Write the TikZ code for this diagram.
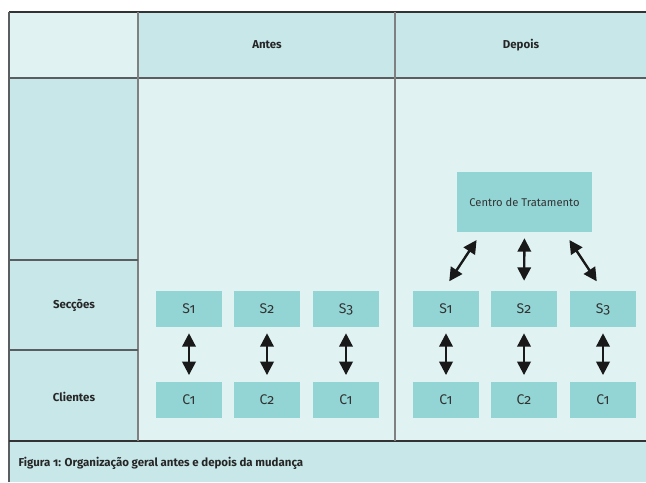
\documentclass[tikz,border=0pt]{standalone}
\usepackage{fontspec}
\setmainfont[Numbers=OldStyle]{Fira Sans}
\usetikzlibrary{arrows.meta,calc}
\definecolor{hdr}{HTML}{C7E7E9}
\definecolor{body}{HTML}{E1F2F2}
\definecolor{boxc}{HTML}{93D5D5}
\definecolor{linec}{HTML}{5A5E60}
\tikzset{
  box/.style={fill=boxc,minimum width=66*0.75pt,minimum height=36*0.75pt,inner sep=0pt,font=\fontsize{10.5}{12}\selectfont,text=black!80},
  bigbox/.style={fill=boxc,minimum width=135*0.75pt,minimum height=60*0.75pt,inner sep=0pt,font=\fontsize{8.4}{10}\selectfont,text=black!80},
  lbl/.style={font=\bfseries\fontsize{8.6}{10}\selectfont,text=black!85},
  grid/.style={draw=linec,line width=1.1pt},
  dbl/.style={{Triangle[length=10pt,width=10pt]}-{Triangle[length=10pt,width=10pt]},line width=1.8pt,draw=black!90}
}
\begin{document}
\begin{tikzpicture}[x=0.75pt,y=-0.75pt]
\useasboundingbox (0,0) rectangle (646,482);
% fills
\fill[white] (0,0) rectangle (646,482);
\fill[body] (9,12) rectangle (138,78);
\fill[hdr] (138,12) rectangle (646,78);
\fill[hdr] (9,78) rectangle (138,441);
\fill[body] (138,78) rectangle (646,441);
\fill[hdr] (9,441) rectangle (646,482);
% grid lines
\draw[grid,draw=black!80] (9,12) -- (646,12);
\draw[grid] (9,12) -- (9,482);
\draw[grid] (9,78) -- (646,78);
\draw[grid,draw=black!80] (9,441) -- (646,441);
\draw[grid,draw=gray] (138,12) -- (138,441);
\draw[grid,draw=gray] (395,12) -- (395,441);
\draw[grid] (9,260) -- (138,260);
\draw[grid] (9,350) -- (138,350);
% labels
\node[lbl] (antes) at (267,45) {Antes};
\node[lbl] (depois) at (521,45) {Depois};
\node[lbl] (seccoes) at (74,305) {Secções};
\node[lbl] (clientes) at (74,397) {Clientes};
\node[lbl,anchor=west] (cap) at (14,463) {Figura 1: Organização geral antes e depois da mudança};
% Antes boxes
\node[box] (as1) at (189,309) {S1};
\node[box] (as2) at (267,309) {S2};
\node[box] (as3) at (346,309) {S3};
\node[box] (ac1) at (189,400) {C1};
\node[box] (ac2) at (267,400) {C2};
\node[box] (ac3) at (346,400) {C1};
% Depois boxes
\node[bigbox] (ct) at (524.5,202) {Centro de Tratamento};
\node[box] (ds1) at (446,309) {S1};
\node[box] (ds2) at (524,309) {S2};
\node[box] (ds3) at (603,309) {S3};
\node[box] (dc1) at (446,400) {C1};
\node[box] (dc2) at (524,400) {C2};
\node[box] (dc3) at (603,400) {C1};
% arrows
\foreach \s/\c in {as1/ac1,as2/ac2,as3/ac3,ds1/dc1,ds2/dc2,ds3/dc3}
  \draw[dbl,shorten <=4.5pt,shorten >=5pt] (\s.south) -- (\c.north);
\draw[dbl,shorten <=7pt,shorten >=8.5pt] ($(ct.south west)+(25,0)$) -- ($(ds1.north)+(-3,0)$);
\draw[dbl,shorten <=4.5pt,shorten >=7.5pt] (ct.south) -- (ds2.north);
\draw[dbl,shorten <=7pt,shorten >=8.5pt] ($(ct.south east)+(-28,0)$) -- (ds3.north);
\end{tikzpicture}
\end{document}
